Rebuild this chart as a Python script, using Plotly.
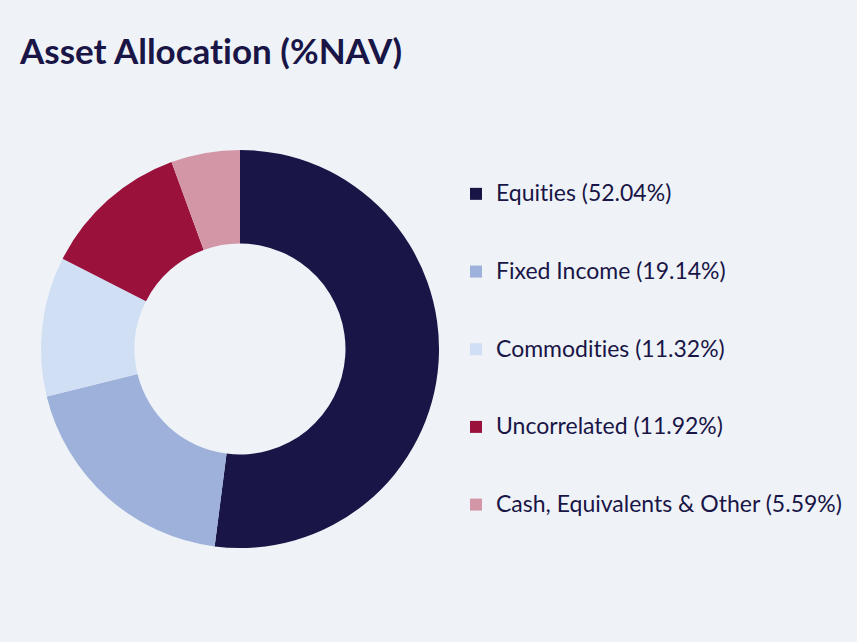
import plotly.graph_objects as go

labels = ["Equities", "Fixed Income", "Commodities", "Uncorrelated", "Cash, Equivalents & Other"]
values = [52.04, 19.14, 11.32, 11.92, 5.59]
colors = ["#191546", "#9db1da", "#d0dff4", "#9a113c", "#d396a7"]

bg = "#eff3f8"
ink = "#191546"

# legend text carries the percentage; blank lines above/below space the items out
legend_labels = ["&nbsp;<br><span style='font-size:23px'>%s (%.2f%%)</span><br>&nbsp;" % (l, v)
                 for l, v in zip(labels, values)]

fig = go.Figure(go.Pie(
    labels=legend_labels,
    values=values,
    marker=dict(colors=colors, line=dict(width=0)),
    hole=0.53,
    sort=False,
    direction="clockwise",
    rotation=0,
    textinfo="none",
    hoverinfo="percent",
    domain=dict(x=[0.0478, 0.5123], y=[0.1464, 0.7664]),
))

fig.update_layout(
    width=857,
    height=642,
    margin=dict(l=0, r=0, t=0, b=0),
    paper_bgcolor=bg,
    plot_bgcolor=bg,
    font=dict(family="Lato", color=ink),
    title=dict(
        text="<b>Asset Allocation (%NAV)</b>",
        x=20 / 857, xanchor="left",
        y=1 - 52 / 642, yanchor="middle",
        font=dict(size=35, color=ink),
    ),
    legend=dict(
        x=456 / 857, xanchor="left",
        y=1 - 349.5 / 642, yanchor="middle",
        valign="middle",
        font=dict(size=19.15, color=ink),
        tracegroupgap=0,
        itemwidth=30,
        bgcolor="rgba(0,0,0,0)",
    ),
)

# no page margin, and no "ti" ligatures so the text reads like the original
js = ("document.body.style.margin='0';"
      "var s=document.createElement('style');"
      "s.textContent='.main-svg text{font-variant-ligatures:none !important;}';"
      "document.head.appendChild(s);")
fig.write_html("out.html", post_script=js, config={"displayModeBar": False})
